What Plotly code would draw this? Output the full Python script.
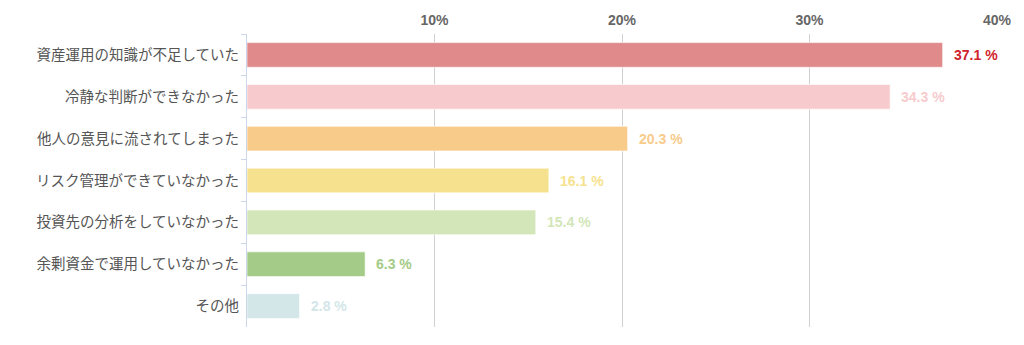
import plotly.graph_objects as go

categories = [
    "資産運用の知識が不足していた",
    "冷静な判断ができなかった",
    "他人の意見に流されてしまった",
    "リスク管理ができていなかった",
    "投資先の分析をしていなかった",
    "余剰資金で運用していなかった",
    "その他",
]
values = [37.1, 34.3, 20.3, 16.1, 15.4, 6.3, 2.8]
bar_colors = ["#e08a8c", "#f7cbcd", "#f8cb8b", "#f6e28e", "#d3e6b9", "#a4cb87", "#d3e6e8"]
label_colors = ["#d0232b", "#f7cbcd", "#f8cb8b", "#f6e28e", "#d3e6b9", "#a4cb87", "#d3e6e8"]
tick_vals = [10, 20, 30, 40]
tick_text = ["10%", "20%", "30%", "40%"]

fig = go.Figure()
fig.add_trace(go.Bar(
    x=values, y=categories, orientation="h",
    marker=dict(color=bar_colors, line=dict(color="rgba(255,255,255,0.6)", width=1)),
    hoverinfo="skip",
))

for v, c, col in zip(values, categories, label_colors):
    fig.add_annotation(
        x=v, y=c, text=f"{v} %", showarrow=False,
        xanchor="left", xshift=9,
        font=dict(family="Liberation Sans, Arial", size=14, color=col, weight="bold"),
    )

fig.update_layout(
    width=1024, height=345,
    margin=dict(l=247, r=23, t=29, b=18),
    paper_bgcolor="white", plot_bgcolor="white",
    bargap=0.41,
    showlegend=False,
    xaxis=dict(
        side="top", range=[0, 40], tickvals=tick_vals, ticktext=tick_text,
        showgrid=True, gridcolor="#d0d0d0", gridwidth=1,
        zeroline=False, showline=False, ticks="",
        tickfont=dict(family="Liberation Sans, Arial", size=14, color="#666666", weight="bold"),
        ticklabelstandoff=5,
    ),
    yaxis=dict(
        autorange="reversed", type="category",
        showline=True, linecolor="#ccd6eb", linewidth=1,
        ticks="outside", ticklen=5, tickcolor="#ccd6eb", tickson="boundaries",
        showgrid=False,
        tickfont=dict(family="Noto Sans CJK JP", size=14.5, color="#555555"),
        ticklabelstandoff=4,
    ),
)

fig.write_html("out.html")
